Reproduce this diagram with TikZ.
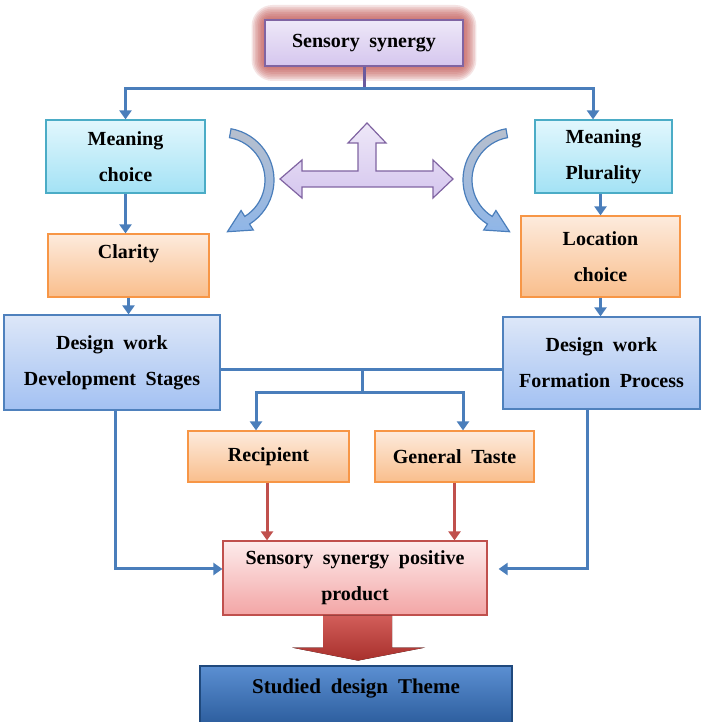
\documentclass[tikz,border=0pt]{standalone}
\usepackage{fontspec}
\setmainfont{Liberation Serif}[WordSpace=1.9]
\usepackage{tikz}
\usetikzlibrary{arrows.meta, positioning, shadows, backgrounds, calc}

\definecolor{linkblue}{HTML}{4A7EBB}
\definecolor{linkred}{HTML}{C0504D}
\definecolor{stubpurple}{HTML}{6A5A9E}
\definecolor{cyanedge}{HTML}{4BACC6}
\definecolor{cyantop}{HTML}{E2F7FD}
\definecolor{cyanbot}{HTML}{A3E2F5}
\definecolor{orangeedge}{HTML}{F79646}
\definecolor{orangetop}{HTML}{FDEBDD}
\definecolor{orangebot}{HTML}{F9BE8C}
\definecolor{blueedge}{HTML}{4F81BD}
\definecolor{bluetop}{HTML}{DDE7F8}
\definecolor{bluebot}{HTML}{A3C1F2}
\definecolor{purpleedge}{HTML}{8064A2}
\definecolor{purpletop}{HTML}{EEE8F8}
\definecolor{purplebot}{HTML}{D5C6EE}
\definecolor{pinkedge}{HTML}{C0504D}
\definecolor{pinktop}{HTML}{FDECEC}
\definecolor{pinkbot}{HTML}{F3A5A5}
\definecolor{themetop}{HTML}{5B8FD2}
\definecolor{themebot}{HTML}{2B5C9C}
\definecolor{themeedge}{HTML}{1F497D}
\definecolor{arctop}{HTML}{B7BFCD}
\definecolor{arcbot}{HTML}{8FB6E8}
\definecolor{glowred}{HTML}{C0504D}
\definecolor{bigredA}{HTML}{D25E5A}
\definecolor{bigredB}{HTML}{A8302C}

\newcommand{\boxfont}{\bfseries\fontsize{20}{36}\selectfont}

\begin{document}
\begin{tikzpicture}[
    x=1pt, y=1pt,
    box/.style={rectangle, line width=1.2pt, inner sep=0pt, align=center, font=\boxfont,
        drop shadow={opacity=0.25, shadow xshift=1.2pt, shadow yshift=-1.5pt}},
    purplebox/.style={box, draw=purpleedge, top color=purpletop, bottom color=purplebot},
    cyanbox/.style={box, draw=cyanedge, top color=cyantop, bottom color=cyanbot},
    orangebox/.style={box, draw=orangeedge, top color=orangetop, bottom color=orangebot},
    bluebox/.style={box, draw=blueedge, top color=bluetop, bottom color=bluebot},
    pinkbox/.style={box, draw=pinkedge, top color=pinktop, bottom color=pinkbot},
    themebox/.style={box, draw=themeedge, top color=themetop, bottom color=themebot, font=\bfseries\fontsize{21}{36}\selectfont},
    line/.style={draw=linkblue, line width=3pt},
    link/.style={line, -{Triangle[width=12pt, length=9pt]}},
    redlink/.style={draw=linkred, line width=3pt, -{Triangle[width=12pt, length=9pt]}},
    curvarrow/.style={draw=linkblue, line width=1.2pt, top color=arctop, bottom color=arcbot},
    crossarrow/.style={draw=purpleedge, line width=1.2pt, top color=purpletop, bottom color=purplebot},
    bigarrow/.style={top color=bigredA, bottom color=bigredB}
]
    \useasboundingbox (0,0) rectangle (701,722);

    % Top
    \node[purplebox, minimum width=198pt, minimum height=46pt] (sens) at (364,679) {Sensory synergy};
    \begin{scope}[on background layer]
        \fill[white] (0,0) rectangle (701,722);
        \foreach \i in {1,...,8}
            \fill[glowred, opacity=0.15, rounded corners=5pt+2*\i pt]
                ($(sens.south west)+(-1.6*\i,-1.8*\i)$) rectangle ($(sens.north east)+(1.6*\i,1.8*\i)$);
    \end{scope}

    % Left column
    \node[cyanbox, minimum width=159pt, minimum height=73pt] (mchoice) at (125.5,565.5) {Meaning\\choice};
    \node[orangebox, minimum width=161pt, text height=25pt, text depth=38pt] (clarity) at (128.5,456.5) {Clarity};
    \node[bluebox, minimum width=216pt, minimum height=95pt] (dwd) at (112,359.5) {Design work\\Development Stages};

    % Right column
    \node[cyanbox, minimum width=137pt, minimum height=73pt] (mplur) at (603.5,565.5) {Meaning\\Plurality};
    \node[orangebox, minimum width=159pt, minimum height=81pt] (loc) at (600.5,465.5) {Location\\choice};
    \node[bluebox, minimum width=197pt, minimum height=92pt] (dwf) at (601.5,359) {Design work\\Formation Process};

    % Middle and bottom
    \node[orangebox, minimum width=161pt, minimum height=51pt] (recip) at (268.5,265.5) {Recipient};
    \node[orangebox, minimum width=159pt, minimum height=51pt] (gtaste) at (454.5,265.5) {General Taste};
    \node[pinkbox, minimum width=264pt, minimum height=74pt] (sspp) at (355,144) {Sensory synergy positive\\product};
    \node[themebox, minimum width=312pt, text height=28pt, text depth=32pt] (theme) at (356,26) {Studied design Theme};

    % Connectors
    \coordinate (split) at ($(sens.south)+(0,-22)$);
    \draw[draw=stubpurple, line width=3pt] (sens.south) -- (split);
    \draw[link] (split) -| (mchoice.north);
    \draw[link] (split) -| ([xshift=-10.5pt]mplur.north);
    \draw[link] (mchoice.south) -- (mchoice.south |- clarity.north);
    \draw[link] (clarity.south) -- (clarity.south |- dwd.north);
    \draw[link] (mplur.south -| loc.north) -- (loc.north);
    \draw[link] (loc.south) -- (loc.south |- dwf.north);

    \draw[line] ([yshift=-7.5pt]dwd.east) -- ([yshift=-7.5pt]dwd.east -| dwf.west);
    \coordinate (fork) at (362,352);
    \coordinate (fork2) at (362,329);
    \draw[line] (fork) -- (fork2);
    \draw[link] (fork2) -| ([xshift=-12.5pt]recip.north);
    \draw[link] (fork2) -| ([xshift=8.5pt]gtaste.north);

    \draw[redlink] ([xshift=-1.5pt]recip.south) -- ([xshift=-1.5pt]recip.south |- sspp.north);
    \draw[redlink] (gtaste.south) -- (gtaste.south |- sspp.north);

    \draw[link] ([xshift=3pt]dwd.south) |- ([yshift=9pt]sspp.west);
    \draw[link] ([xshift=-14.5pt]dwf.south) |- ([xshift=11pt,yshift=9pt]sspp.east);

    % Big arrow to theme
    \begin{scope}[shift={(sspp.south)}]
        \fill[bigarrow] (-32,0) -- (37,0) -- (37,-32) -- (70,-32) -- (3,-45) -- (-63,-32) -- (-32,-32) -- cycle;
    \end{scope}

    % Curved arrows
    \coordinate (cl) at (222,542);
    \coordinate (cr) at (515,542);
    \draw[curvarrow] ($(cl)+(80:52)$) arc[start angle=80, end angle=-58, radius=52]
        -- ($(cl)+(-58:59)$) -- ($(cl)+(-84:52)$) -- ($(cl)+(-58:36)$) -- ($(cl)+(-58:43)$)
        arc[start angle=-58, end angle=80, radius=43] -- cycle;
    \draw[curvarrow] ($(cr)+(100:52)$) arc[start angle=100, end angle=238, radius=52]
        -- ($(cr)+(238:59)$) -- ($(cr)+(264:52)$) -- ($(cr)+(238:36)$) -- ($(cr)+(238:43)$)
        arc[start angle=238, end angle=100, radius=43] -- cycle;

    % Three-way arrow
    \draw[crossarrow] (280,543) -- (302,562) -- (302,551) -- (358,551) -- (358,579) -- (348,579)
        -- (367,599) -- (386,579) -- (376,579) -- (376,551) -- (433,551) -- (433,562)
        -- (453,543) -- (433,524) -- (433,535) -- (302,535) -- (302,524) -- cycle;
\end{tikzpicture}
\end{document}
